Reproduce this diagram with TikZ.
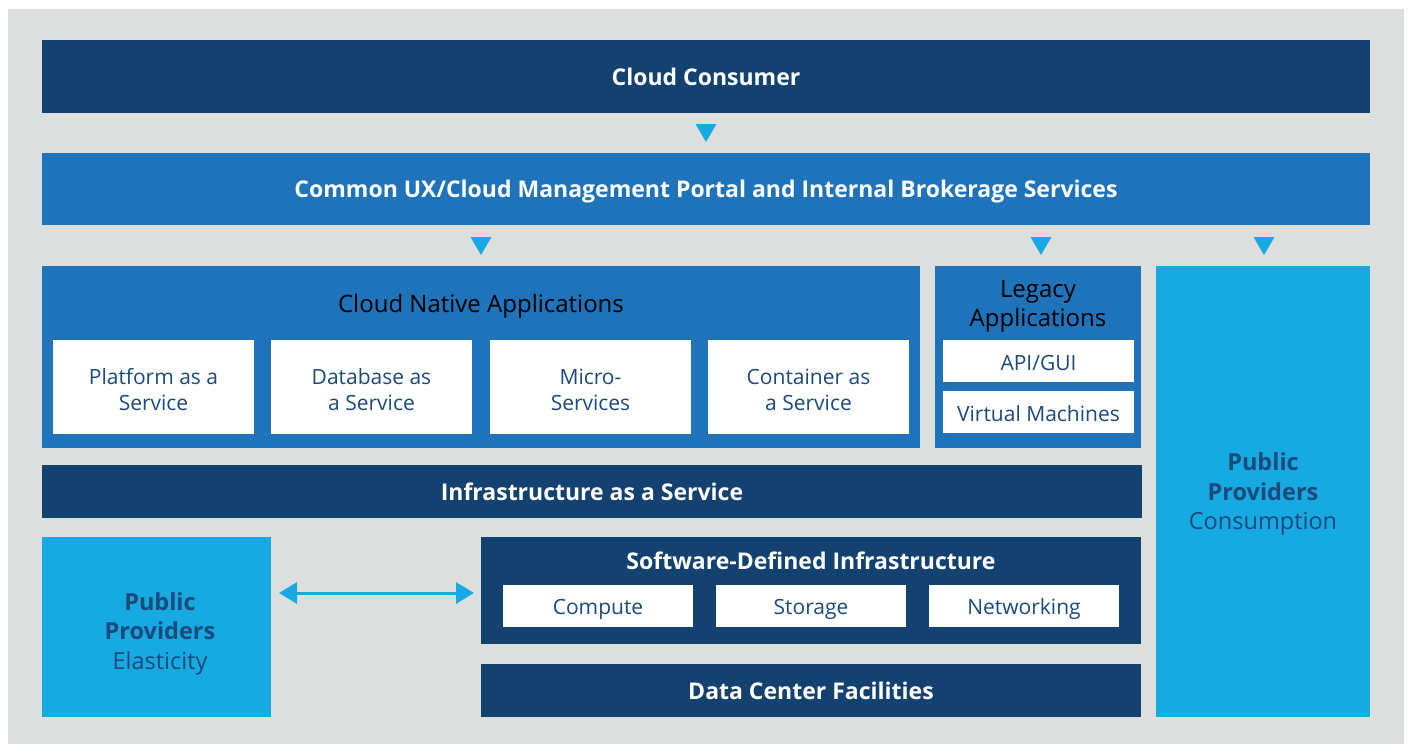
\documentclass[tikz,border=0pt]{standalone}
\usepackage{fontspec}
\setmainfont{Open Sans}
\usetikzlibrary{calc}
\usetikzlibrary{arrows.meta}
\definecolor{navy}{HTML}{144270}
\definecolor{midblue}{HTML}{1E73BA}
\definecolor{skyblue}{HTML}{17A9E1}
\definecolor{bggray}{HTML}{DDDFDE}
\definecolor{txtblue}{HTML}{1B4A7C}
\newcommand{\shiftdown}[2]{\raisebox{-#1}[\height][\depth]{#2}}

\begin{document}
\begin{tikzpicture}[x=1pt,y=-1pt,
	box/.style={rectangle,inner sep=0pt,outer sep=0pt},
	darkbox/.style={box,fill=navy,text=white,font=\fontsize{23}{28}\selectfont\bfseries},
	midbox/.style={box,fill=midblue},
	skybox/.style={box,fill=skyblue,text=txtblue,align=center,font=\fontsize{23.5}{29.5}\selectfont},
	whitebox/.style={box,fill=white,text=txtblue,align=center,font=\fontsize{21}{26}\selectfont},
	boxtitle/.style={inner sep=0pt,align=center,font=\fontsize{24}{29}\selectfont},
	tri/.style={fill=skyblue}]
	\useasboundingbox (0,0) rectangle (1408,744);
	\fill[bggray] (8,9) rectangle (1404,744);
	\node[darkbox,minimum width=1328,minimum height=73] (consumer) at (706,76.5) {Cloud Consumer};
	\node[darkbox,fill=midblue,minimum width=1328,minimum height=72] (portal) at (706,189) {\shiftdown{3pt}{Common UX/Cloud Management Portal and Internal Brokerage Services}};
	\node[midbox,minimum width=878,minimum height=182] (native) at (481,357) {};
	\node[boxtitle] (nativetitle) at (481,306.5) {Cloud Native Applications};
	\node[whitebox,minimum width=201,minimum height=94] (paas) at (153.5,387) {\shiftdown{2.5pt}{Platform as a}\\\shiftdown{2.5pt}{Service}};
	\node[whitebox,minimum width=201,minimum height=94] (dbaas) at (371.5,387) {\shiftdown{2.5pt}{Database as}\\\shiftdown{2.5pt}{a Service}};
	\node[whitebox,minimum width=201,minimum height=94] (micro) at (590.5,387) {\shiftdown{2.5pt}{Micro-}\\\shiftdown{2.5pt}{Services}};
	\node[whitebox,minimum width=201,minimum height=94] (caas) at (808.5,387) {\shiftdown{2.5pt}{Container as}\\\shiftdown{2.5pt}{a Service}};
	\node[midbox,minimum width=206,minimum height=182] (legacy) at (1038,357) {};
	\node[boxtitle] (legacytitle) at (1038,306) {Legacy\\Applications};
	\node[whitebox,minimum width=191,minimum height=42] (api) at (1038.5,361) {\shiftdown{2pt}{API/GUI}};
	\node[whitebox,minimum width=191,minimum height=42] (vm) at (1038.5,412) {\shiftdown{2pt}{Virtual Machines}};
	\node[skybox,minimum width=214,minimum height=451] (consumption) at (1263,491.5) {\shiftdown{2.5pt}{\textbf{Public}}\\\shiftdown{2.5pt}{\textbf{Providers}}\\\shiftdown{2.5pt}{Consumption}};
	\node[darkbox,minimum width=1100,minimum height=53] (iaas) at (592,491.5) {Infrastructure as a Service};
	\node[skybox,minimum width=229,minimum height=180] (elasticity) at (156.5,627) {\hspace*{7pt}\shiftdown{6.5pt}{\textbf{Public}}\\\hspace*{7pt}\shiftdown{6.5pt}{\textbf{Providers}}\\\hspace*{7pt}\shiftdown{6.5pt}{Elasticity}};
	\node[darkbox,minimum width=660,minimum height=107] (sdi) at (811,590.5) {};
	\node[boxtitle,text=white,font=\fontsize{23}{28}\selectfont\bfseries] (sdititle) at (811,561) {Software-Defined Infrastructure};
	\node[whitebox,minimum width=190,minimum height=42] (compute) at (598,606) {\shiftdown{3pt}{Compute}};
	\node[whitebox,minimum width=190,minimum height=42] (storage) at (811,606) {\shiftdown{3pt}{Storage}};
	\node[whitebox,minimum width=190,minimum height=42] (networking) at (1024,606) {\shiftdown{3pt}{Networking}};
	\node[darkbox,minimum width=660,minimum height=53] (dcf) at (811,690.5) {Data Center Facilities};
	\fill[tri] ($(consumer.south)+(-10.5,11)$) -- ++(21,0) -- ++(-10.5,18) -- cycle;
	\fill[tri] ($(portal.south west)+(428.5,12)$) -- ++(21,0) -- ++(-10.5,18) -- cycle;
	\fill[tri] ($(portal.south west)+(988.5,12)$) -- ++(21,0) -- ++(-10.5,18) -- cycle;
	\fill[tri] ($(portal.south west)+(1211.5,12)$) -- ++(21,0) -- ++(-10.5,18) -- cycle;
	\draw[skyblue,line width=3pt,{Triangle[width=21pt,length=18pt]}-{Triangle[width=21pt,length=18pt]}] ($(elasticity.east)+(8,-34)$) -- ($(sdi.west)+(-7,2.5)$);
\end{tikzpicture}
\end{document}
